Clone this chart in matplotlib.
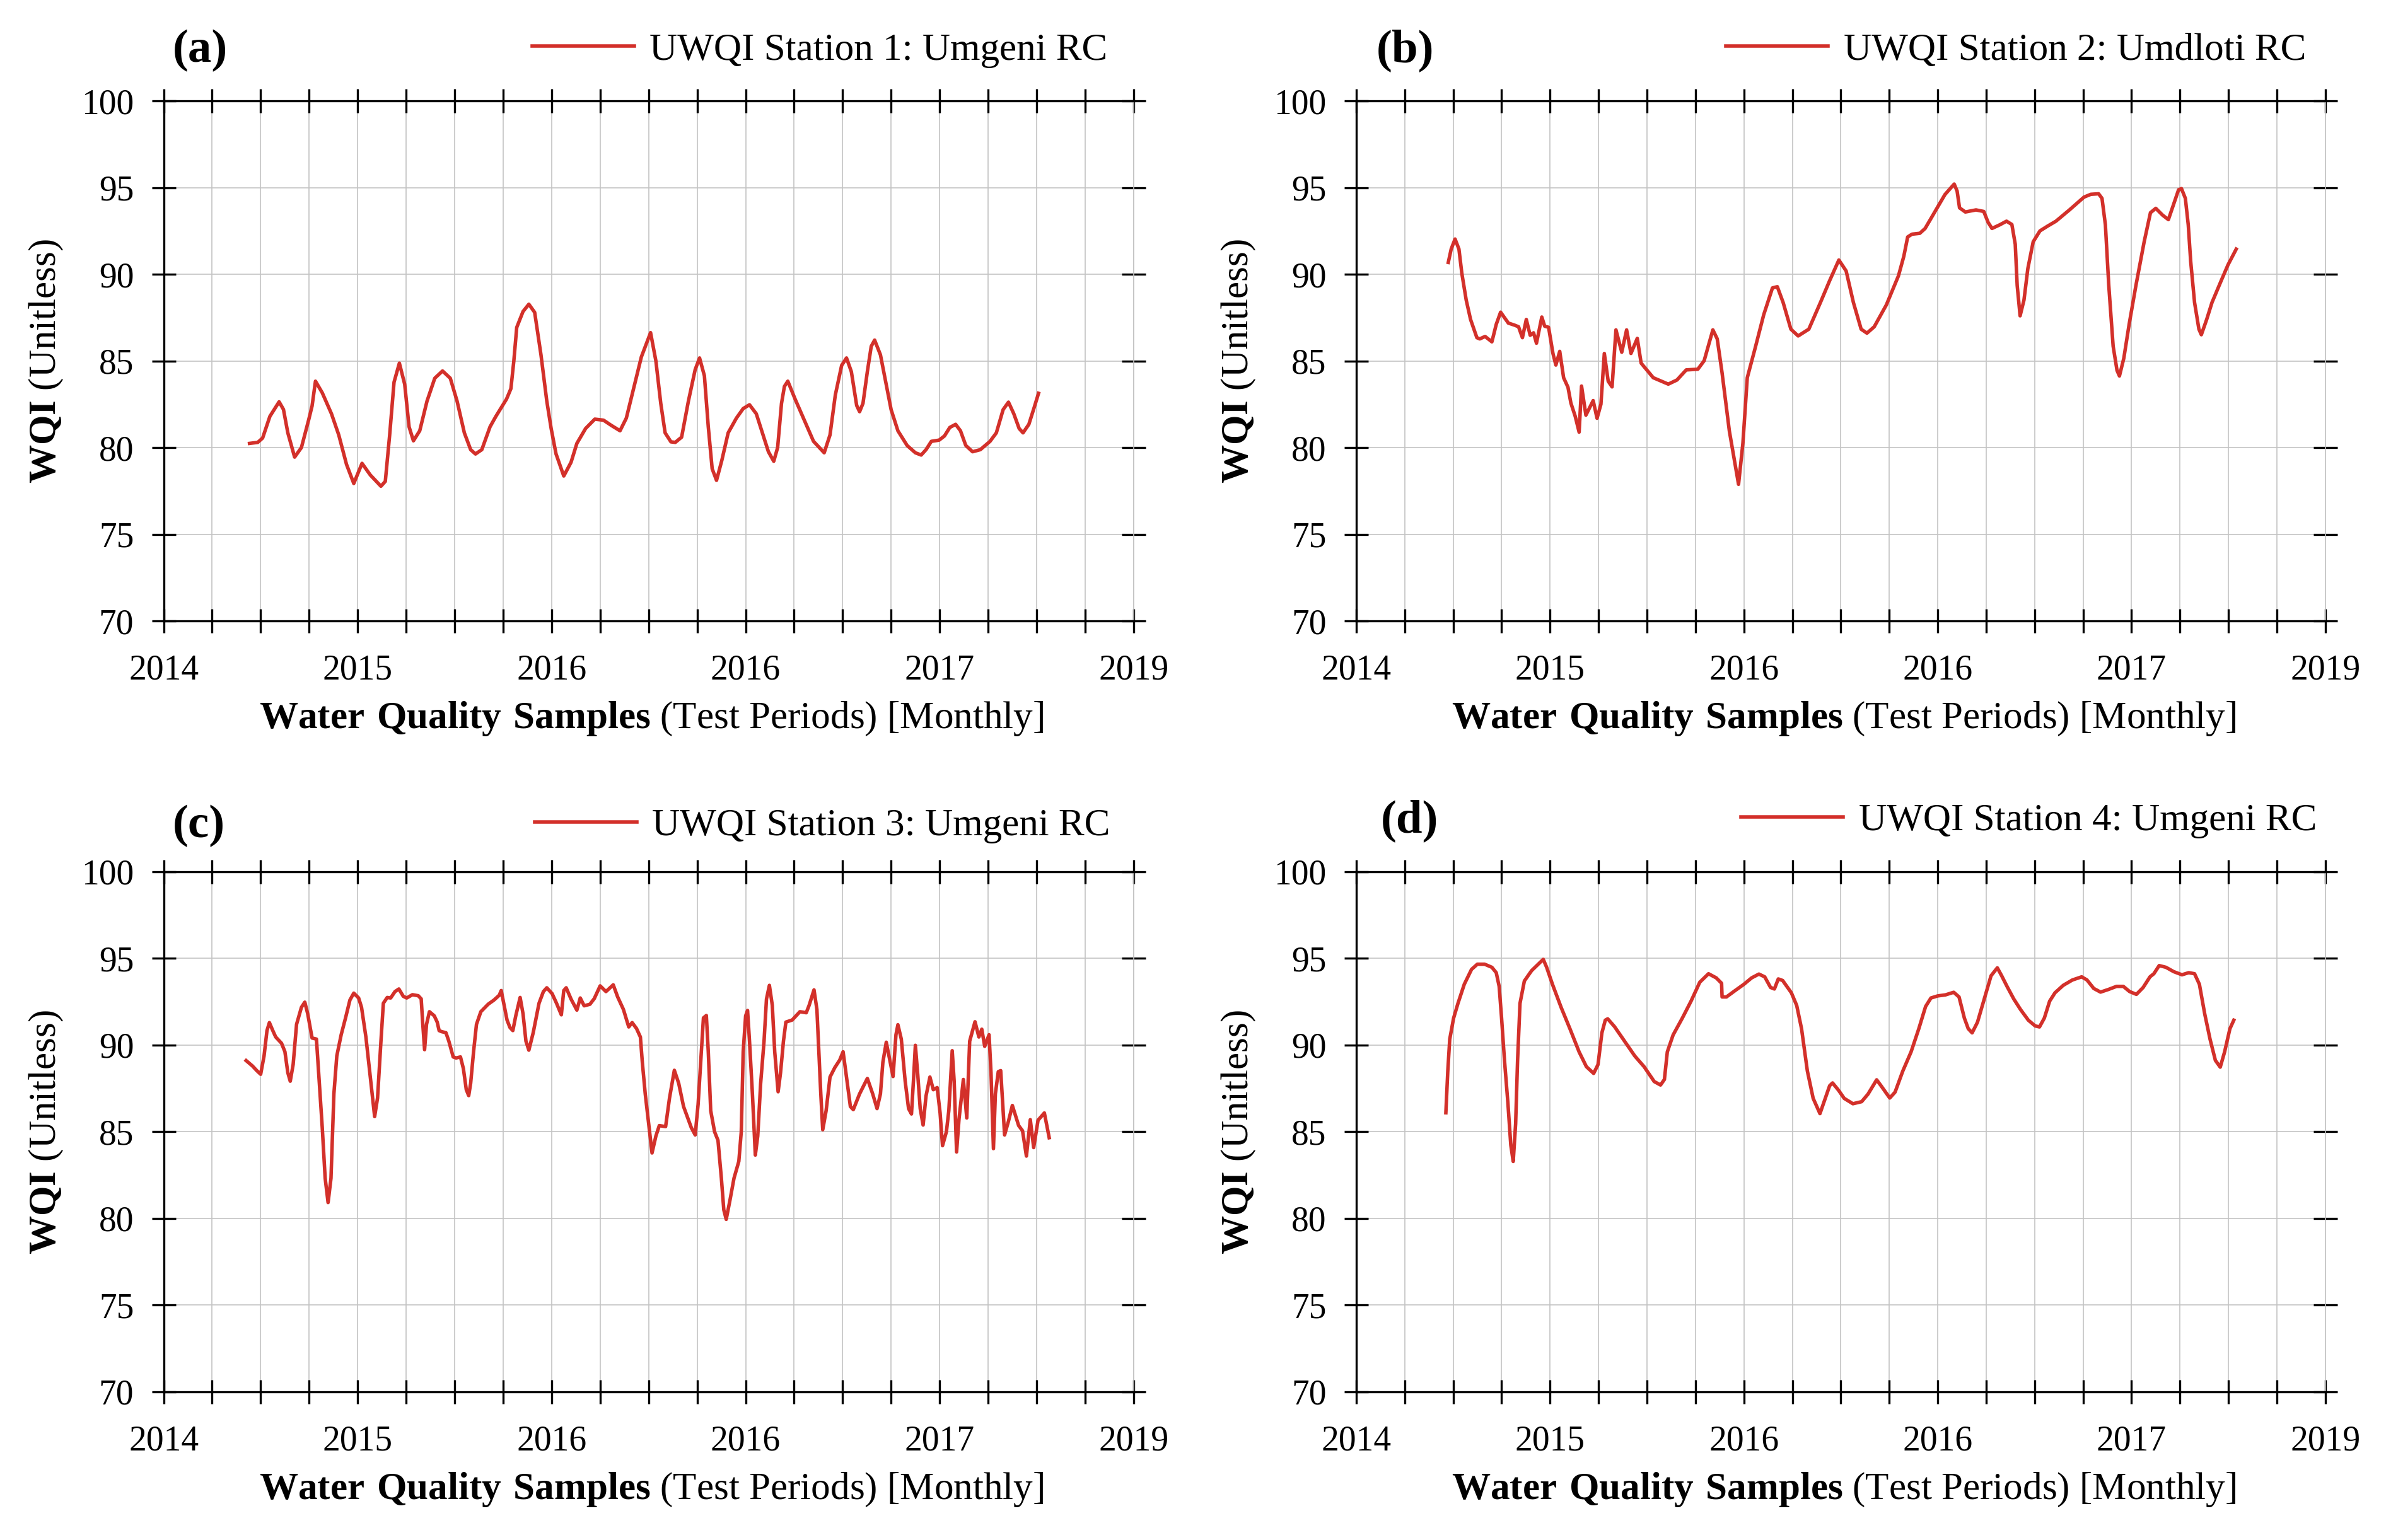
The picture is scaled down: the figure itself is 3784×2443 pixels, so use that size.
import numpy as np
import matplotlib.pyplot as plt

plt.rcParams['font.family'] = ['Liberation Serif', 'DejaVu Serif']
plt.rcParams['mathtext.fontset'] = 'custom'
plt.rcParams['mathtext.rm'] = 'Liberation Serif'
plt.rcParams['mathtext.bf'] = 'Liberation Serif:bold'

# x positions are in test-period steps (one grid step each)
tick_pos = list(range(21))
tick_labels = ['2014', '', '', '', '2015', '', '', '', '2016', '', '', '',
               '2016', '', '', '', '2017', '', '', '', '2019']

s1_t = [1.77, 1.94, 2.04, 2.19, 2.38, 2.47, 2.56, 2.70, 2.84, 2.99,
        3.06, 3.13, 3.27, 3.46, 3.61, 3.77, 3.92, 4.09, 4.26, 4.48,
        4.57, 4.66, 4.75, 4.86, 4.97, 5.06, 5.15, 5.28, 5.43, 5.59,
        5.75, 5.91, 6.05, 6.20, 6.33, 6.43, 6.56, 6.73, 6.85, 7.07,
        7.16, 7.22, 7.28, 7.41, 7.53, 7.65, 7.78, 7.90, 7.99, 8.09,
        8.25, 8.40, 8.52, 8.70, 8.89, 9.07, 9.23, 9.41, 9.54, 9.69,
        9.85, 10.04, 10.15, 10.25, 10.34, 10.46, 10.55,
        10.68, 10.82, 10.96, 11.05, 11.15, 11.23, 11.31, 11.40, 11.51, 11.64,
        11.81, 11.95, 12.08, 12.22, 12.36, 12.47, 12.58, 12.66, 12.74, 12.80,
        12.87, 13.02, 13.21, 13.40, 13.62, 13.74, 13.85, 13.98, 14.08, 14.18,
        14.29, 14.35, 14.42, 14.51, 14.59, 14.66, 14.78, 14.89, 15.00, 15.14,
        15.33, 15.50, 15.62, 15.72, 15.83, 15.99, 16.10, 16.21, 16.33, 16.43,
        16.54, 16.68, 16.84, 17.04, 17.17, 17.31, 17.42, 17.53, 17.64, 17.72,
        17.84, 17.95, 18.04]
s1_wqi = [80.24, 80.3, 80.55, 81.8, 82.64, 82.2, 80.85, 79.45, 80.0, 81.6,
          82.4, 83.83, 83.16, 81.95, 80.73, 79.03, 77.93, 79.09, 78.42, 77.77,
          78.05, 80.73, 83.77, 84.87, 83.65, 81.2, 80.39, 80.97, 82.68, 84.0,
          84.42, 84.0, 82.68, 80.85, 79.88, 79.63, 79.88, 81.2, 81.8, 82.8,
          83.4, 84.99, 86.93, 87.85, 88.27, 87.8, 85.35, 82.68, 81.1, 79.64,
          78.36, 79.15, 80.24, 81.1, 81.64, 81.58, 81.28, 80.97, 81.7, 83.4,
          85.23, 86.63, 84.99, 82.55, 80.85, 80.33, 80.3,
          80.6, 82.68, 84.5, 85.17, 84.14, 81.2, 78.78, 78.11, 79.27, 80.85,
          81.7, 82.25, 82.47, 81.95, 80.73, 79.76, 79.21, 80.0, 82.55, 83.53,
          83.83, 82.8, 81.58, 80.36, 79.7, 80.73, 83.04, 84.74, 85.17, 84.38,
          82.43, 82.07, 82.55, 84.38, 85.84, 86.2, 85.35, 83.77, 82.19, 80.97,
          80.12, 79.7, 79.57, 79.88, 80.36, 80.43, 80.67, 81.16, 81.34, 80.97,
          80.12, 79.76, 79.88, 80.36, 80.85, 82.19, 82.62, 81.95, 81.1, 80.85,
          81.34, 82.31, 83.13]

s2_t = [1.90, 1.96, 2.04, 2.12, 2.18, 2.27, 2.36, 2.49, 2.55, 2.66,
        2.80, 2.89, 2.98, 3.14, 3.26, 3.35, 3.43, 3.51, 3.59, 3.66,
        3.72, 3.83, 3.89, 3.97, 4.06, 4.12, 4.20, 4.28, 4.37, 4.43,
        4.52, 4.60, 4.65, 4.74, 4.89, 4.97, 5.05, 5.12, 5.20, 5.28,
        5.36, 5.48, 5.58, 5.67, 5.80, 5.88, 6.13, 6.44, 6.62, 6.81,
        7.05, 7.18, 7.36, 7.45, 7.55, 7.70, 7.89, 7.98, 8.07, 8.23,
        8.41, 8.59, 8.69, 8.81, 8.97, 9.12, 9.34, 9.58, 9.77, 9.96,
        10.11, 10.26, 10.42, 10.54, 10.69, 10.94,
        11.19, 11.30, 11.38, 11.47, 11.63, 11.74, 11.96, 12.15, 12.34, 12.40,
        12.45, 12.57, 12.79, 12.95, 13.04, 13.12, 13.28, 13.42, 13.53, 13.60,
        13.64, 13.70, 13.78, 13.86, 13.97, 14.11, 14.27, 14.44, 14.71, 15.02,
        15.16, 15.32, 15.39, 15.46, 15.53, 15.62, 15.70, 15.75, 15.84, 15.95,
        16.09, 16.26, 16.39, 16.50, 16.64, 16.76, 16.86, 16.97, 17.03, 17.11,
        17.17, 17.22, 17.30, 17.39, 17.44, 17.55, 17.66, 17.85, 17.99, 18.16]
s2_wqi = [90.68, 91.45, 92.03, 91.45, 90.05, 88.51, 87.39, 86.34, 86.27, 86.41,
          86.1, 87.11, 87.81, 87.18, 87.07, 86.97, 86.34, 87.39, 86.48, 86.62,
          86.02, 87.53, 87.0, 86.94, 85.43, 84.76, 85.55, 84.03, 83.48, 82.57,
          81.8, 80.89, 83.55, 81.87, 82.71, 81.69, 82.5, 85.43, 83.83, 83.5,
          86.79, 85.5, 86.79, 85.43, 86.3, 84.87, 84.03, 83.66, 83.9, 84.48,
          84.52, 85.01, 86.79, 86.27, 84.31, 80.96, 77.88, 80.26, 84.03, 85.71,
          87.67, 89.21, 89.28, 88.37, 86.83, 86.44, 86.83, 88.37, 89.63, 90.82,
          90.19, 88.37, 86.83, 86.6, 86.97, 88.23,
          89.91, 91.03, 92.15, 92.31, 92.36, 92.64, 93.69, 94.6, 95.2, 94.8,
          93.83, 93.59, 93.71, 93.62, 92.99, 92.64, 92.85, 93.06, 92.87, 91.73,
          89.35, 87.6, 88.51, 90.33, 91.87, 92.5, 92.78, 93.06, 93.69, 94.45,
          94.61, 94.64, 94.38, 92.85, 89.35, 85.85, 84.45, 84.13, 85.15, 87.11,
          89.35, 91.87, 93.55, 93.8, 93.41, 93.15, 93.97, 94.87, 94.94, 94.38,
          92.85, 90.75, 88.37, 86.83, 86.51, 87.39, 88.37, 89.63, 90.54, 91.45]

s3_t = [1.70, 1.83, 1.92, 2.00, 2.07, 2.13, 2.18, 2.25, 2.31, 2.43,
        2.50, 2.56, 2.61, 2.67, 2.74, 2.84, 2.91, 2.97, 3.06, 3.15,
        3.21, 3.27, 3.33, 3.39, 3.45, 3.51, 3.57, 3.66, 3.75, 3.84,
        3.92, 4.02, 4.08, 4.17, 4.26, 4.35, 4.41, 4.48, 4.53, 4.61,
        4.68, 4.77, 4.85, 4.94, 5.01, 5.13, 5.25, 5.31, 5.34, 5.38,
        5.42, 5.48, 5.58, 5.64, 5.68, 5.73, 5.82, 5.88, 5.97, 6.03,
        6.12, 6.18, 6.24, 6.29, 6.33, 6.39, 6.45, 6.54, 6.69, 6.81,
        6.92, 6.96, 7.02, 7.08, 7.14, 7.20, 7.26, 7.35, 7.41, 7.47,
        7.53, 7.62, 7.74, 7.83, 7.90, 8.01, 8.10, 8.20, 8.25, 8.30,
        8.40, 8.52, 8.59, 8.67, 8.79, 8.88, 9.00, 9.12, 9.27, 9.36,
        9.48, 9.59, 9.66, 9.75, 9.83, 9.87, 9.93, 10.01, 10.07, 10.15,
        10.22,
        10.35, 10.43, 10.53, 10.62, 10.72, 10.88, 10.96, 11.02, 11.10, 11.13,
        11.19, 11.23, 11.28, 11.36, 11.43, 11.50, 11.55, 11.60, 11.68, 11.76,
        11.86, 11.91, 11.95, 12.00, 12.04, 12.08, 12.14, 12.20, 12.25, 12.31,
        12.38, 12.43, 12.49, 12.55, 12.60, 12.67, 12.72, 12.78, 12.83, 12.96,
        13.12, 13.25, 13.31, 13.41, 13.47, 13.51, 13.55, 13.59, 13.66, 13.74,
        13.84, 13.94, 14.01, 14.08, 14.16, 14.22, 14.35, 14.51, 14.62, 14.71,
        14.78, 14.83, 14.90, 14.99, 15.04, 15.10, 15.14, 15.21, 15.29, 15.36,
        15.42, 15.46, 15.50, 15.55, 15.60, 15.66, 15.72, 15.80, 15.87, 15.95,
        16.01, 16.06, 16.14, 16.19, 16.26, 16.30, 16.35, 16.40, 16.49, 16.56,
        16.62, 16.73, 16.81, 16.87, 16.93, 17.02, 17.06, 17.11, 17.15, 17.21,
        17.26, 17.34, 17.42, 17.50, 17.63, 17.71, 17.79, 17.87, 17.94, 18.03,
        18.16, 18.26]
s3_wqi = [89.11, 88.8, 88.53, 88.32, 89.38, 90.84, 91.3, 90.84, 90.47, 90.11,
          89.62, 88.41, 87.92, 88.89, 91.2, 92.18, 92.48, 91.81, 90.41, 90.35,
          87.8, 85.24, 82.32, 80.92, 82.32, 87.19, 89.38, 90.6, 91.57, 92.6,
          93.0, 92.72, 92.18, 90.47, 88.16, 85.88, 86.95, 90.23, 92.42, 92.75,
          92.72, 93.09, 93.24, 92.82, 92.72, 92.91, 92.85, 92.67, 91.33, 89.74,
          91.2, 91.93, 91.69, 91.33, 90.84, 90.78, 90.72, 90.23, 89.32, 89.26,
          89.32, 88.65, 87.43, 87.09, 87.8, 89.62, 91.2, 91.93, 92.36, 92.6,
          92.88, 93.15, 92.3, 91.45, 91.02, 90.84, 91.69, 92.75, 91.81, 90.23,
          89.71, 90.72, 92.42, 93.09, 93.31, 92.97, 92.42, 91.75, 93.15, 93.31,
          92.66, 92.02, 92.72, 92.27, 92.36, 92.69, 93.42, 93.09, 93.48, 92.79,
          92.06, 91.05, 91.3, 90.96, 90.47, 89.01, 87.19, 85.24, 83.78, 84.76,
          85.36,
          85.30, 86.94, 88.55, 87.8, 86.46, 85.24, 84.82, 86.58, 90.23, 91.57,
          91.71, 89.62, 86.22, 85.0, 84.51, 82.32, 80.5, 79.95, 81.1, 82.32,
          83.3, 85.0, 89.62, 91.69, 92.0, 90.23, 87.19, 83.66, 84.76, 87.8,
          90.23, 92.66, 93.45, 92.3, 89.62, 87.31, 88.41, 90.23, 91.33, 91.45,
          91.93, 91.87, 92.3, 93.19, 92.06, 89.62, 87.19, 85.12, 86.22, 88.16,
          88.71, 89.14, 89.62, 88.16, 86.46, 86.28, 87.19, 88.08, 87.19, 86.34,
          87.19, 89.01, 90.17, 88.89, 88.19, 90.6, 91.18, 90.35, 87.92, 86.34,
          86.03, 87.92, 89.99, 88.28, 86.34, 85.39, 87.07, 88.16, 87.43, 87.55,
          86.09, 84.2, 85.0, 86.22, 89.68, 87.92, 83.84, 85.73, 88.02, 85.8,
          90.23, 91.35, 90.47, 90.92, 89.93, 90.6, 88.41, 84.03, 87.19, 88.47,
          88.53, 84.82, 85.61, 86.52, 85.36, 85.06, 83.6, 85.7, 84.09, 85.67,
          86.09, 84.66]

s4_t = [1.85, 1.89, 1.93, 2.01, 2.10, 2.23, 2.38, 2.50, 2.65, 2.80,
        2.89, 2.95, 3.00, 3.06, 3.13, 3.19, 3.24, 3.29, 3.33, 3.38,
        3.47, 3.62, 3.78, 3.86, 3.93, 4.05, 4.23, 4.41, 4.60, 4.75,
        4.90, 4.99, 5.07, 5.14, 5.19, 5.33, 5.51, 5.75, 5.94, 6.15,
        6.28, 6.36, 6.42, 6.54, 6.73, 6.91, 7.09, 7.27, 7.43, 7.54,
        7.55, 7.64, 7.82, 8.00, 8.16, 8.31, 8.43, 8.55, 8.63, 8.71,
        8.80, 8.98, 9.09, 9.19, 9.31, 9.43, 9.57, 9.68, 9.77, 9.83,
        9.95, 10.07, 10.25, 10.43, 10.56, 10.74, 10.83,
        11.01, 11.12, 11.28, 11.45, 11.61, 11.75, 11.86, 12.00, 12.16, 12.33,
        12.44, 12.55, 12.63, 12.71, 12.82, 12.96, 13.10, 13.23, 13.32, 13.43,
        13.57, 13.71, 13.87, 14.01, 14.10, 14.20, 14.31, 14.42, 14.59, 14.78,
        14.97, 15.08, 15.22, 15.36, 15.52, 15.69, 15.83, 15.96, 16.10, 16.24,
        16.38, 16.46, 16.57, 16.71, 16.87, 17.04, 17.18, 17.30, 17.40, 17.51,
        17.62, 17.73, 17.83, 17.92, 18.03, 18.11]
s4_wqi = [86.1, 88.51, 90.34, 91.56, 92.41, 93.51, 94.37, 94.67, 94.67, 94.49,
          94.18, 93.39, 91.56, 89.12, 86.68, 84.24, 83.29, 85.46, 89.12, 92.41,
          93.7, 94.3, 94.73, 94.95, 94.49, 93.51, 92.17, 90.95, 89.61, 88.76,
          88.37, 88.88, 90.71, 91.44, 91.52, 91.07, 90.34, 89.37, 88.76, 87.9,
          87.7, 88.02, 89.61, 90.59, 91.56, 92.54, 93.63, 94.12, 93.88, 93.57,
          92.78, 92.78, 93.15, 93.51, 93.88, 94.1, 93.94, 93.33, 93.24, 93.82,
          93.73, 93.02, 92.29, 90.95, 88.51, 86.93, 86.05, 86.93, 87.66, 87.82,
          87.41, 86.93, 86.62, 86.74, 87.17, 88.0, 87.66,
          86.95, 87.29, 88.51, 89.61, 90.95, 92.23, 92.72, 92.84, 92.9, 93.05,
          92.78, 91.56, 90.95, 90.71, 91.32, 92.66, 94.0, 94.46, 94.0, 93.39,
          92.66, 92.05, 91.44, 91.11, 91.05, 91.56, 92.54, 93.02, 93.45, 93.76,
          93.94, 93.76, 93.27, 93.06, 93.21, 93.39, 93.39, 93.09, 92.93, 93.33,
          93.94, 94.12, 94.59, 94.49, 94.24, 94.06, 94.18, 94.12, 93.51, 91.8,
          90.34, 89.12, 88.73, 89.61, 90.95, 91.44]

station_names = ['UWQI Station 1: Umgeni RC', 'UWQI Station 2: Umdloti RC',
                 'UWQI Station 3: Umgeni RC', 'UWQI Station 4: Umgeni RC']
panel_tags = ['(a)', '(b)', '(c)', '(d)']
series = [(s1_t, s1_wqi), (s2_t, s2_wqi), (s3_t, s3_wqi), (s4_t, s4_wqi)]

fig = plt.figure(figsize=(18.92, 12.215), dpi=200)

rects = [[0.0686, 0.5968, 0.4065, 0.3377], [0.5684, 0.5968, 0.4062, 0.3377],
         [0.0686, 0.0962, 0.4065, 0.3377], [0.5684, 0.0962, 0.4062, 0.3377]]
leg_x = [0.973, 0.980, 0.976, 0.991]
leg_y = [1.097, 1.097, 1.088, 1.098]
tag_x = [0.009, 0.021, 0.009, 0.025]

red = '#d3302a'
grid_col = '#c4c4c4'

for i in range(4):
    ax = fig.add_axes(rects[i])
    t, w = series[i]
    ax.plot(t, w, color=red, lw=2.0, solid_joinstyle='round', label=station_names[i])

    ax.set_xlim(0, 20)
    ax.set_ylim(70, 100)
    ax.set_xticks(tick_pos)
    ax.set_xticklabels(tick_labels)
    ax.set_yticks(np.arange(70, 101, 5))
    ax.grid(True, color=grid_col, lw=0.6)
    ax.set_axisbelow(True)

    for side in ['left', 'bottom', 'top']:
        ax.spines[side].set_color('black')
        ax.spines[side].set_linewidth(1.2)
    ax.spines['right'].set_color(grid_col)
    ax.spines['right'].set_linewidth(0.6)

    ax.tick_params(axis='both', which='major', direction='inout', length=14,
                   width=1.2, labelsize=20, color='black')
    ax.tick_params(axis='x', top=True, pad=12)
    ax.tick_params(axis='y', right=True, pad=10)

    ax.set_xlabel(r'$\mathbf{Water\ Quality\ Samples}$ (Test Periods) [Monthly]', fontsize=22)
    ax.xaxis.set_label_coords(0.503, -0.152)
    ax.set_ylabel(r'$\mathbf{WQI}$ (Unitless)', fontsize=22)
    ax.yaxis.set_label_coords(-0.102, 0.5)

    ax.legend(loc='center right', bbox_to_anchor=(leg_x[i], leg_y[i]), frameon=False,
              fontsize=22, borderaxespad=0, borderpad=0, handlelength=2.65,
              handletextpad=0.4)
    ax.text(tag_x[i], leg_y[i], panel_tags[i], transform=ax.transAxes, fontsize=27,
            fontweight='bold', va='center', ha='left')

fig.savefig('out.png', dpi=200)
